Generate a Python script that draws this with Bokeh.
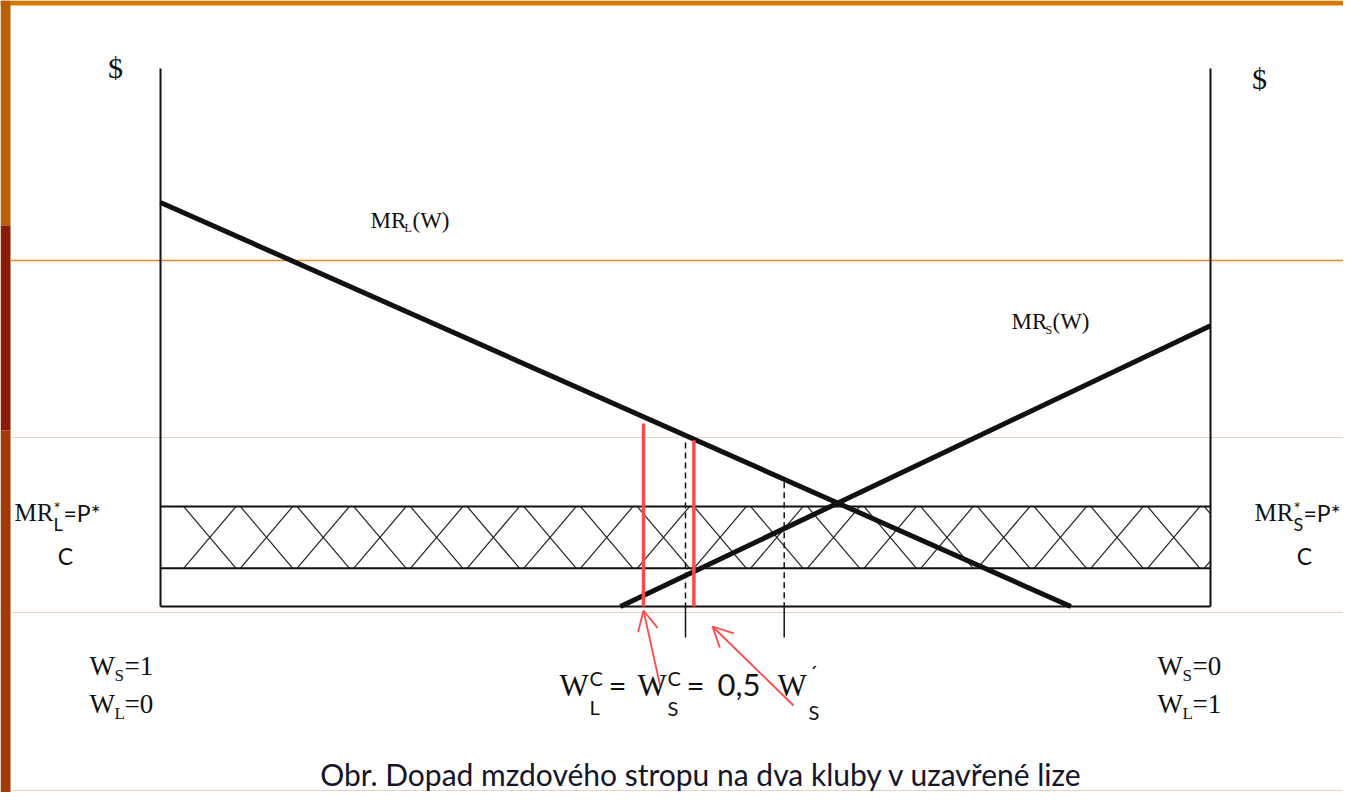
import numpy as np
from bokeh.plotting import figure
from bokeh.models import Range1d, Label, Arrow, OpenHead
from bokeh.embed import file_html
from bokeh.resources import INLINE

# ---------------- data (W on x: 0..1, $ on y) ----------------
axis_w = [0.0, 1.0]
axis_top = 10.0
mr_l_w = [0.0, 0.867]
mr_l_y = [7.51, 0.0]
mr_s_w = [0.438, 1.0]
mr_s_y = [0.0, 5.22]
p_star = 1.86
c_level = 0.71
dash_w = [0.5, 0.594]
dash_top = [3.05, 2.31]
red_w = [0.46, 0.508]
red_top = [3.40, 3.09]

# ---------------- layout helpers ----------------
X0, XS = 160.0, 1050.0
Y0, YS = 606.0, 53.8
def px2x(px): return (px - X0) / XS
def py2y(py): return (Y0 - py) / YS

W, H = 1343, 792
p = figure(width=W, height=H,
           x_range=Range1d(px2x(0), px2x(W)),
           y_range=Range1d(py2y(H), py2y(0)),
           output_backend="svg", toolbar_location=None,
           x_axis_location=None, y_axis_location=None, min_border=0)
p.grid.visible = False
p.outline_line_color = None
p.background_fill_color = "white"
p.border_fill_color = "white"

# slide decoration: top border, left strip, thin lines
p.quad(left=[px2x(0)], right=[px2x(W)], bottom=[py2y(5)], top=[py2y(0)], fill_color="#d97800", line_color=None)
p.quad(left=[px2x(0)] * 3, right=[px2x(10)] * 3,
       bottom=[py2y(225), py2y(430), py2y(H)], top=[py2y(0), py2y(225), py2y(430)],
       fill_color=["#bb5f05", "#8a1c05", "#a03a05"], line_color=None)
p.segment(x0=[px2x(10)], y0=[py2y(260)], x1=[px2x(W)], y1=[py2y(260)], line_color="#e08a2a", line_width=1.3)
for yy in (437, 612, 790):
    p.segment(x0=[px2x(10)], y0=[py2y(yy)], x1=[px2x(W)], y1=[py2y(yy)], line_color="#e6d3c4", line_width=1.2)

BLACK = "#111111"
# hatch texture inside the band
step, dx = 0.054, 0.05
starts = np.arange(0.022, 1.0, step)
hx0, hy0, hx1, hy1 = [], [], [], []
for s in starts:
    e = s + dx
    if e <= 1.0:
        hx0 += [s, s]; hy0 += [p_star, c_level]; hx1 += [e, e]; hy1 += [c_level, p_star]
    else:
        f = (1.0 - s) / dx
        hx0 += [s, s]; hy0 += [p_star, c_level]; hx1 += [1.0, 1.0]
        hy1 += [p_star - f * (p_star - c_level), c_level + f * (p_star - c_level)]
p.segment(x0=hx0, y0=hy0, x1=hx1, y1=hy1, line_color="#222222", line_width=1.2)

# axes and frame lines
p.segment(x0=axis_w, y0=[0, 0], x1=axis_w, y1=[axis_top, axis_top], line_color=BLACK, line_width=2)
p.line(axis_w, [0, 0], line_color=BLACK, line_width=2)
p.line(axis_w, [p_star, p_star], line_color=BLACK, line_width=2)
p.line(axis_w, [c_level, c_level], line_color=BLACK, line_width=2)

# dashed verticals and ticks
p.segment(x0=dash_w, y0=dash_top, x1=dash_w, y1=[0, 0], line_color=BLACK, line_width=1.5, line_dash="6 4")
p.segment(x0=dash_w, y0=[0, 0], x1=dash_w, y1=[py2y(637)] * 2, line_color=BLACK, line_width=1.5)

# MR curves
p.line(mr_l_w, mr_l_y, line_color=BLACK, line_width=5)
p.line(mr_s_w, mr_s_y, line_color=BLACK, line_width=5)

# red verticals
RED = "#ff4a4a"
p.segment(x0=red_w, y0=red_top, x1=red_w, y1=[0, 0], line_color=RED, line_width=3.5)

# red arrows
for (sx, sy, ex, ey) in [(660, 687, 643, 610), (793, 705, 712, 626)]:
    p.add_layout(Arrow(end=OpenHead(size=20, line_color=RED, line_width=1.8),
                       x_start=px2x(sx), y_start=py2y(sy), x_end=px2x(ex), y_end=py2y(ey),
                       line_color=RED, line_width=1.8))

SERIF = "Liberation Serif"
SANS = "Lato"
def lab(px, py, text, size, font=SERIF, align="left", color="#111111"):
    # py is the intended baseline; compensate the renderer's baseline offset
    p.add_layout(Label(x=px2x(px), y=py2y(py - 0.42 * size), text=text, text_font=font,
                       text_font_size=f"{size}px", text_align=align,
                       text_baseline="alphabetic", text_color=color))

# $ labels
lab(115, 80, "$", 30, align="center")
lab(1259, 91, "$", 30, align="center")

# MR_L(W)
lab(370, 230, "MR", 23)
lab(404, 233, "L", 12)
lab(412, 230, "(W)", 23)
# MR_S(W)
lab(1011, 331, "MR", 23)
lab(1045, 335, "S", 12)
lab(1052, 331, "(W)", 23)

# left MR*_L = P*, C
lab(14, 522, "MR", 25)
lab(53, 515, "*", 17, font=SANS)
lab(53, 531, "L", 18, font=SANS)
lab(63, 522, "=P*", 23, font=SANS)
lab(65, 565, "C", 23, font=SANS, align="center")
# right MR*_S = P*, C
lab(1254, 522, "MR", 25)
lab(1293, 515, "*", 17, font=SANS)
lab(1293, 531, "S", 18, font=SANS)
lab(1303, 522, "=P*", 23, font=SANS)
lab(1304, 565, "C", 23, font=SANS, align="center")

# W_S=1 / W_L=0 (left) and W_S=0 / W_L=1 (right)
for x0_, top_val, bot_val in [(89, "=1", "=0"), (1157, "=0", "=1")]:
    lab(x0_, 677, "W", 27)
    lab(x0_ + 25, 682, "S", 17)
    lab(x0_ + 35, 677, top_val, 27)
    lab(x0_, 715, "W", 27)
    lab(x0_ + 25, 720, "L", 17)
    lab(x0_ + 35, 715, bot_val, 27)

# bottom formula  W^C_L = W^C_S = 0,5   W'_S
lab(559, 698, "W", 31)
lab(589, 686, "C", 20, font=SANS)
lab(589, 715, "L", 20, font=SANS)
lab(608, 698, "=", 31, font=SANS)
lab(637, 698, "W", 31)
lab(667, 686, "C", 20, font=SANS)
lab(667, 716, "S", 20, font=SANS)
lab(686, 698, "=", 31, font=SANS)
lab(717, 698, "0,5", 31, font=SANS)
lab(777, 698, "W", 31)
lab(809, 680, "\u00b4", 20, font=SANS)
lab(808, 720, "S", 20, font=SANS)

# caption
lab(701, 786, "Obr. Dopad mzdového stropu na dva kluby v uzavřené lize", 30, font=SANS, align="center", color="#15152a")

open("out.html", "w").write(file_html(p, INLINE))
